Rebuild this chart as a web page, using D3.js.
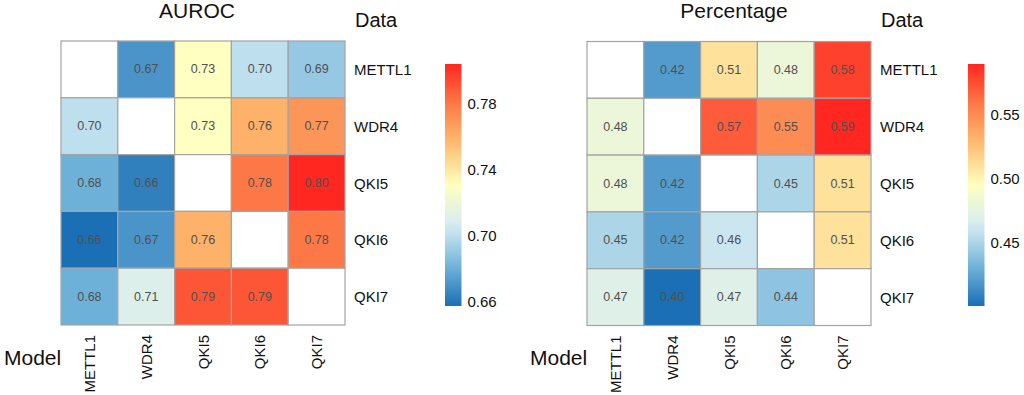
<!DOCTYPE html>
<html>
<head>
<meta charset="utf-8">
<script src="https://cdn.jsdelivr.net/npm/d3@7"></script>
<style>
  body { margin: 0; background: #fff; }
  svg { display: block; font-family: "Liberation Sans", Arial, sans-serif; }
</style>
</head>
<body>
<script>
// names used for both axes
var genes = ["METTL1", "WDR4", "QKI5", "QKI6", "QKI7"];

// rows = Data, columns = Model (diagonal left empty)
var aurocValues = [
    [null, 0.67, 0.73, 0.70, 0.69],
    [0.70, null, 0.73, 0.76, 0.77],
    [0.68, 0.663, null, 0.78, 0.804],
    [0.657, 0.67, 0.76, null, 0.78],
    [0.68, 0.71, 0.79, 0.79, null]
];
var percentValues = [
    [null, 0.42, 0.51, 0.48, 0.58],
    [0.48, null, 0.57, 0.55, 0.59],
    [0.48, 0.42, null, 0.45, 0.51],
    [0.45, 0.42, 0.46, null, 0.51],
    [0.47, 0.40, 0.47, 0.44, null]
];
var aurocTicks = [0.66, 0.70, 0.74, 0.78];
var percentTicks = [0.45, 0.50, 0.55];

// colour ramp, low -> high
var rampColors = ["#1a6fb5", "#74b5da", "#d6ecf3", "#ffffbf", "#fdbf72", "#fc7a48", "#ff2720"];
var ramp = d3.piecewise(d3.interpolateRgb, rampColors);

var width = 1024, height = 395;
var svg = d3.select("body").append("svg")
    .attr("width", width)
    .attr("height", height);

drawPanel({ title: "AUROC", values: aurocValues, ticks: aurocTicks,
            x0: 61, y0: 41, titleX: 197, barX: 445 });
drawPanel({ title: "Percentage", values: percentValues, ticks: percentTicks,
            x0: 587, y0: 41.5, titleX: 734, barX: 968 });

function drawPanel(p) {
    var g = svg.append("g");
    var size = 284;

    var x = d3.scaleBand().domain(genes).range([p.x0, p.x0 + size]);
    var y = d3.scaleBand().domain(genes).range([p.y0, p.y0 + size]);

    var flat = d3.merge(p.values).filter(v => v != null);
    var ext = d3.extent(flat);
    var color = d3.scaleSequential(ramp).domain(ext);

    var cells = [];
    p.values.forEach((row, i) => row.forEach((v, j) => {
        cells.push({ row: genes[i], col: genes[j], value: v });
    }));

    g.selectAll("rect.cell")
        .data(cells)
        .enter()
        .append("rect")
        .attr("class", "cell")
        .attr("x", d => x(d.col))
        .attr("y", d => y(d.row))
        .attr("width", x.bandwidth())
        .attr("height", y.bandwidth())
        .attr("fill", d => d.value == null ? "#fff" : color(d.value))
        .attr("stroke", "#a3a3a3")
        .attr("stroke-width", 1.2);

    g.selectAll("text.val")
        .data(cells.filter(d => d.value != null))
        .enter()
        .append("text")
        .attr("x", d => x(d.col) + x.bandwidth() / 2)
        .attr("y", d => y(d.row) + y.bandwidth() / 2)
        .attr("text-anchor", "middle")
        .attr("dominant-baseline", "central")
        .attr("font-size", 12.5)
        .attr("fill", "#505050")
        .text(d => d.value.toFixed(2));

    // row labels (Data)
    g.selectAll("text.rowlab")
        .data(genes)
        .enter()
        .append("text")
        .attr("x", p.x0 + size + 9)
        .attr("y", d => y(d) + y.bandwidth() / 2)
        .attr("dominant-baseline", "central")
        .attr("font-size", 15)
        .attr("fill", "#111")
        .text(d => d);

    // column labels (Model), rotated
    g.selectAll("text.collab")
        .data(genes)
        .enter()
        .append("text")
        .attr("transform", d => "translate(" + (x(d) + x.bandwidth() / 2) + "," + (p.y0 + size + 10) + ") rotate(-90)")
        .attr("text-anchor", "end")
        .attr("dominant-baseline", "central")
        .attr("font-size", 15)
        .attr("fill", "#111")
        .text(d => d);

    g.append("text")
        .attr("x", p.titleX)
        .attr("y", 18)
        .attr("text-anchor", "middle")
        .attr("font-size", 21)
        .attr("fill", "#111")
        .text(p.title);

    g.append("text")
        .attr("x", p.x0 + size + 10)
        .attr("y", 27)
        .attr("font-size", 20)
        .attr("fill", "#111")
        .text("Data");

    g.append("text")
        .attr("x", p.x0 - 57)
        .attr("y", 365)
        .attr("font-size", 21)
        .attr("fill", "#111")
        .text("Model");

    // colour bar
    var barTop = 64, barBottom = 306, barW = 16.5;
    var yBar = d3.scaleLinear().domain(ext).range([barBottom, barTop]);
    var gradId = "grad-" + p.title;
    var grad = svg.append("defs").append("linearGradient")
        .attr("id", gradId)
        .attr("x1", 0).attr("y1", 1).attr("x2", 0).attr("y2", 0);
    d3.range(0, 1.0001, 0.05).forEach(t => {
        grad.append("stop")
            .attr("offset", t)
            .attr("stop-color", ramp(t));
    });
    g.append("rect")
        .attr("x", p.barX)
        .attr("y", barTop)
        .attr("width", barW)
        .attr("height", barBottom - barTop)
        .attr("fill", "url(#" + gradId + ")");

    g.selectAll("text.tick")
        .data(p.ticks)
        .enter()
        .append("text")
        .attr("x", p.barX + barW + 6)
        .attr("y", d => yBar(d))
        .attr("dominant-baseline", "central")
        .attr("font-size", 15)
        .attr("fill", "#111")
        .text(d => d.toFixed(2));
}
</script>
</body>
</html>
